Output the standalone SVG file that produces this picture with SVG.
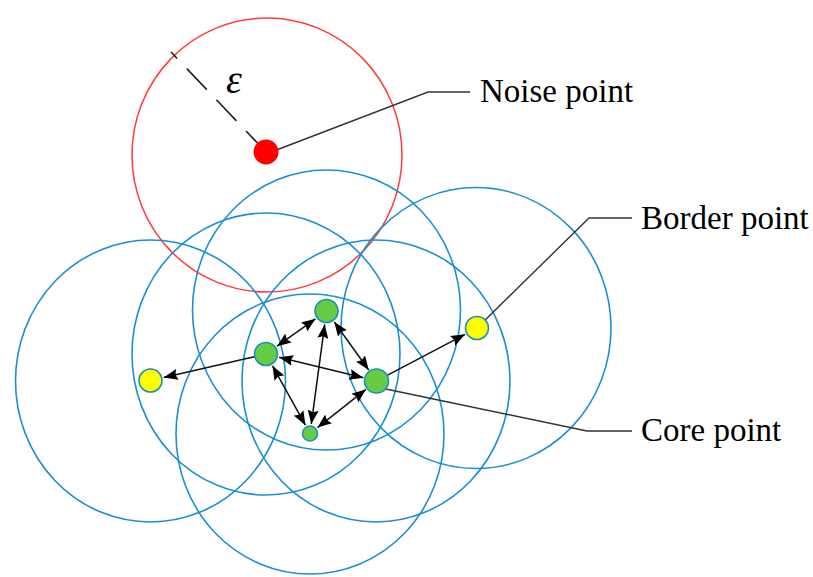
<svg xmlns="http://www.w3.org/2000/svg" width="813" height="577" viewBox="0 0 813 577">
<style>
.nb{fill:none;stroke:#1b8fd2;stroke-width:1.6}
.nr{fill:none;stroke:#ff3a3a;stroke-width:1.5}
.core{fill:#66cc44;stroke:#1b8fb8;stroke-width:1.6}
.border{fill:#ffff00;stroke:#1b8fb8;stroke-width:1.6}
.noise{fill:#ff0000;stroke:none}
.arr{stroke:#111;stroke-width:1.5;fill:none}
.lead{stroke:#333;stroke-width:1.4;fill:none}
.lbl{font-family:"Liberation Serif","Times New Roman",serif;font-size:33px;fill:#000}
</style>
<defs>
<marker id="ah" viewBox="0 0 14 11" refX="14" refY="5.5" markerWidth="14" markerHeight="11" markerUnits="userSpaceOnUse" orient="auto-start-reverse">
<path d="M0,0 L14,5.5 L0,11 L2,5.5 z" fill="#000"/>
</marker>
</defs>
<g id="neighborhoods">
<ellipse class="nr" cx="267" cy="155" rx="135" ry="137"/>
<ellipse class="nb" cx="150.5" cy="381" rx="135" ry="141"/>
<ellipse class="nb" cx="266" cy="354" rx="134" ry="141"/>
<ellipse class="nb" cx="326.5" cy="310" rx="134" ry="140"/>
<ellipse class="nb" cx="376" cy="381" rx="134" ry="141"/>
<ellipse class="nb" cx="476" cy="328" rx="135" ry="140.5"/>
<ellipse class="nb" cx="310" cy="434" rx="134" ry="140"/>
</g>
<g id="epsilon">
<path d="M266,152 L171,52" stroke="#222" stroke-width="1.6" stroke-dasharray="29 14" fill="none"/>
<text x="226" y="93" font-family="'Liberation Serif',serif" font-style="italic" font-size="40" fill="#000">ε</text>
</g>
<g id="connectors">
<path class="lead" d="M266,154 L428,92 L470,92"/>
<path class="lead" d="M477,328 L589,218 L632,218"/>
<path class="lead" d="M381,388 L587,431 L632,431"/>
<line class="arr" x1="277" y1="346.2" x2="315.5" y2="318.8" marker-start="url(#ah)" marker-end="url(#ah)"/>
<line class="arr" x1="324.7" y1="324.4" x2="311.3" y2="424.1" marker-start="url(#ah)" marker-end="url(#ah)"/>
<line class="arr" x1="334.3" y1="322" x2="368.7" y2="370" marker-start="url(#ah)" marker-end="url(#ah)"/>
<line class="arr" x1="279.1" y1="357.2" x2="363.4" y2="377.8" marker-start="url(#ah)" marker-end="url(#ah)"/>
<line class="arr" x1="272.5" y1="365.8" x2="305.4" y2="425.2" marker-start="url(#ah)" marker-end="url(#ah)"/>
<line class="arr" x1="317.5" y1="427.6" x2="365.9" y2="389.4" marker-start="url(#ah)" marker-end="url(#ah)"/>
<line class="arr" x1="254.3" y1="356.7" x2="163.7" y2="377.5" marker-end="url(#ah)"/>
<line class="arr" x1="387.1" y1="375.4" x2="465.1" y2="334.3" marker-end="url(#ah)"/>
</g>
<g id="noise-point"><circle class="noise" cx="266" cy="152" r="12.5"/></g>
<g id="core-a"><circle class="core" cx="266" cy="354" r="11.5"/></g>
<g id="core-b"><circle class="core" cx="326.5" cy="311" r="11.5"/></g>
<g id="core-c"><circle class="core" cx="376.5" cy="381" r="12"/></g>
<g id="core-d"><circle class="core" cx="310" cy="433.5" r="7.5"/></g>
<g id="border-left"><circle class="border" cx="150.5" cy="380.5" r="11.5"/></g>
<g id="border-right"><circle class="border" cx="477" cy="328" r="11.5"/></g>
<g id="labels">
<text class="lbl" x="480" y="102">Noise point</text>
<text class="lbl" x="641" y="229">Border point</text>
<text class="lbl" x="641" y="441">Core point</text>
</g>
</svg>
